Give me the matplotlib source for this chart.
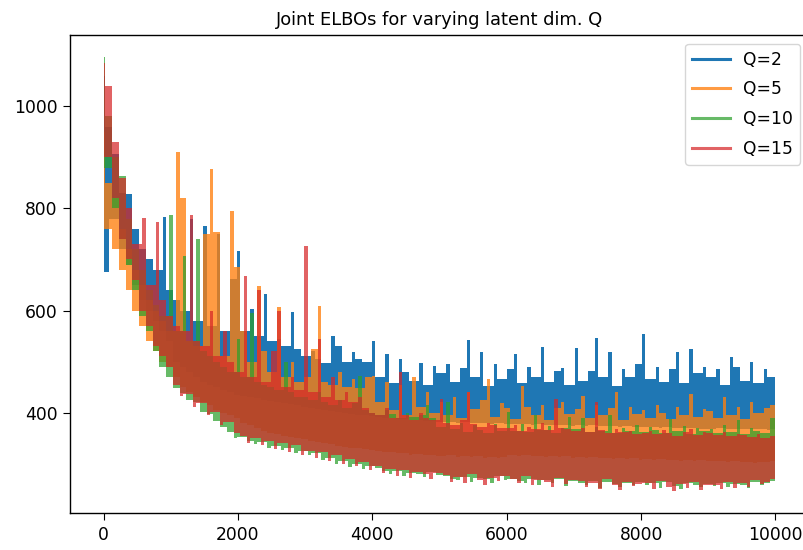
import numpy as np
from matplotlib import pyplot as plt

# ELBO values, one value every 50 iterations
# (the curves swing up and down between neighbouring samples)
q2 = [1060, 675, 960, 780, 906, 720, 830, 690, 828, 650, 760, 620, 720, 600, 700, 580, 680, 560, 783, 540,
      640, 500, 620, 490, 600, 480, 779, 470, 580, 460, 765, 455, 570, 450, 749, 445, 560, 440, 661, 435,
      716, 432, 560, 430, 603, 428, 550, 425, 632, 422, 540, 420, 545, 418, 530, 416, 597, 414, 525, 412,
      510, 410, 520, 408, 505, 406, 498, 404, 550, 402, 531, 400, 500, 398, 519, 396, 505, 395, 500, 393,
      540, 392, 470, 390, 515, 389, 458, 388, 505, 387, 480, 386, 462, 385, 498, 384, 455, 383, 492, 382,
      478, 382, 495, 381, 460, 380, 488, 381, 542, 380, 470, 379, 518, 380, 452, 378, 495, 379, 465, 378,
      485, 378, 515, 377, 458, 378, 490, 376, 470, 377, 528, 376, 460, 375, 482, 376, 488, 375, 455, 374,
      526, 375, 462, 374, 482, 375, 546, 373, 470, 374, 519, 373, 452, 372, 485, 373, 470, 372, 495, 371,
      554, 372, 465, 371, 490, 370, 460, 371, 485, 370, 519, 369, 458, 370, 525, 369, 478, 368, 490, 367,
      470, 368, 485, 369, 455, 368, 509, 367, 490, 368, 462, 367, 500, 368, 458, 367, 485, 366, 470, 368]

q5 = [950, 760, 850, 720, 820, 680, 760, 640, 720, 600, 680, 570, 650, 540, 620, 520, 600, 500, 580, 490,
      560, 470, 910, 450, 820, 440, 540, 430, 530, 420, 749, 415, 878, 405, 753, 400, 510, 395, 794, 390,
      685, 380, 560, 375, 500, 370, 648, 365, 520, 360, 480, 358, 607, 355, 470, 352, 500, 350, 460, 348,
      470, 345, 525, 342, 609, 340, 460, 338, 455, 335, 480, 333, 450, 331, 465, 330, 448, 328, 470, 326,
      472, 325, 420, 323, 460, 322, 405, 321, 455, 320, 395, 318, 470, 319, 412, 317, 440, 318, 400, 316,
      420, 315, 395, 317, 430, 314, 390, 316, 440, 313, 408, 315, 425, 312, 466, 314, 392, 312, 418, 313,
      410, 318, 388, 316, 452, 317, 412, 315, 395, 316, 415, 314, 385, 315, 410, 313, 420, 315, 398, 312,
      408, 314, 433, 312, 390, 313, 415, 311, 395, 312, 410, 310, 440, 311, 385, 309, 412, 311, 398, 308,
      405, 310, 390, 308, 415, 309, 400, 307, 388, 308, 412, 306, 395, 307, 437, 305, 392, 307, 408, 306,
      404, 305, 390, 306, 431, 304, 395, 305, 412, 303, 388, 304, 420, 302, 400, 304, 410, 303, 415, 306]

q10 = [1097, 880, 980, 800, 900, 740, 863, 690, 780, 640, 720, 590, 680, 560, 640, 520, 610, 490, 590, 470,
       788, 448, 560, 438, 707, 425, 540, 420, 740, 402, 520, 398, 510, 383, 500, 372, 490, 362, 480, 350,
       545, 352, 470, 345, 596, 338, 460, 342, 455, 330, 450, 335, 445, 326, 500, 330, 440, 320, 430, 324,
       430, 318, 425, 320, 440, 308, 420, 312, 415, 300, 425, 306, 410, 294, 418, 300, 472, 290, 405, 295,
       400, 292, 395, 285, 405, 280, 398, 286, 390, 275, 400, 282, 392, 280, 395, 274, 414, 283, 390, 278,
       372, 276, 421, 270, 368, 268, 380, 274, 362, 265, 375, 272, 366, 270, 360, 262, 378, 275, 365, 268,
       401, 270, 365, 266, 378, 262, 362, 270, 395, 258, 366, 268, 374, 263, 360, 270, 370, 257, 392, 266,
       368, 262, 390, 258, 362, 266, 372, 252, 365, 264, 395, 260, 360, 255, 370, 262, 364, 258, 375, 264,
       362, 258, 372, 262, 366, 252, 360, 264, 388, 256, 364, 250, 374, 262, 358, 258, 370, 254, 365, 260,
       368, 256, 360, 262, 375, 254, 362, 260, 385, 258, 358, 252, 370, 264, 364, 258, 360, 262, 390, 266]

q15 = [1085, 900, 1040, 820, 930, 740, 860, 700, 800, 660, 730, 600, 782, 570, 650, 530, 773, 510, 620, 490,
       590, 455, 570, 432, 560, 436, 788, 412, 540, 418, 530, 395, 600, 402, 510, 376, 560, 381, 500, 360,
       480, 355, 667, 340, 470, 350, 641, 336, 460, 345, 520, 328, 600, 340, 450, 322, 470, 336, 445, 318,
       726, 325, 440, 312, 545, 322, 430, 306, 470, 318, 425, 300, 440, 310, 420, 296, 430, 303, 410, 288,
       400, 295, 395, 282, 410, 290, 390, 276, 480, 288, 395, 272, 385, 284, 400, 279, 390, 270, 385, 281,
       427, 278, 380, 265, 375, 274, 385, 262, 440, 280, 378, 268, 372, 258, 380, 272, 375, 266, 370, 276,
       370, 270, 375, 262, 365, 275, 372, 258, 368, 268, 380, 265, 366, 255, 427, 272, 370, 260, 368, 268,
       365, 266, 370, 255, 362, 262, 421, 250, 366, 270, 360, 258, 368, 248, 362, 264, 365, 256, 358, 261,
       360, 262, 364, 250, 358, 266, 366, 255, 360, 246, 355, 260, 362, 252, 368, 265, 357, 248, 363, 258,
       360, 258, 356, 250, 362, 264, 354, 252, 359, 262, 357, 255, 352, 268, 358, 260, 350, 265, 355, 270]

labels = ['Q=2', 'Q=5', 'Q=10', 'Q=15']
series = [q2, q5, q10, q15]
colors = ['C0', 'C1', 'C2', 'C3']
alphas = [1.0, 0.78, 0.72, 0.72]

plt.rcParams['font.size'] = 12.3
plt.rcParams['axes.linewidth'] = 1.0

iters = np.linspace(0, 9999, len(q2))

fig = plt.figure(figsize=(8.04, 5.5), dpi=100)
ax = fig.add_axes([70 / 804, 37 / 550, 739 / 804, 478 / 550])

for vals, lab, c, a in zip(series, labels, colors, alphas):
    y = np.array(vals, dtype=float)
    # a densely sampled noisy line fills the range it sweeps in each column
    yp = np.pad(y, 1, mode='reflect')
    left, right = yp[:-2], yp[2:]
    top = np.maximum(y, np.minimum(left, right))
    bot = np.minimum(y, np.maximum(left, right))
    ax.fill_between(iters, bot, top, step='mid', color=c, alpha=a, lw=0)
    ax.plot([], [], color=c, alpha=a, lw=2.2, label=lab)

ax.set_title('Joint ELBOs for varying latent dim. Q', fontsize=12.9, pad=7)
ax.set_xticks([0, 2000, 4000, 6000, 8000, 10000])
ax.set_yticks([400, 600, 800, 1000])
ax.tick_params(length=5, pad=4)

ax.legend(loc='upper right', bbox_to_anchor=(800 / 804, 1 - 44 / 550),
          bbox_transform=fig.transFigure, borderaxespad=0, handlelength=2.2,
          labelspacing=0.68)

fig.savefig('out.png', dpi=100)
